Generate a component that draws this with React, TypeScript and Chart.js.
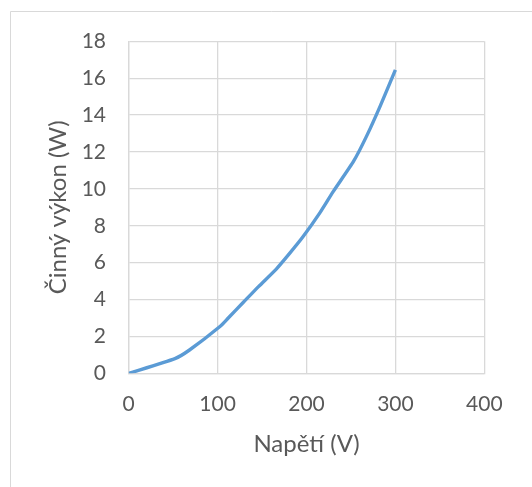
import React, { useEffect, useRef } from "react";
import { Chart, registerables } from "chart.js";

Chart.register(...registerables);

const voltage = [0, 52, 68, 103, 112, 129, 146, 166, 181, 196, 215, 230, 253, 268, 283, 300];
const power = [0, 0.8, 1.25, 2.55, 3.0, 3.85, 4.7, 5.65, 6.5, 7.4, 8.7, 9.85, 11.5, 12.9, 14.5, 16.45];
const xTitle = "Napětí (V)";
const yTitle = "Činný výkon (W)";

const textColor = "#595959";
const gridColor = "#d9d9d9";
const FONT = "Lato, 'Open Sans', sans-serif";

const borderPlugin = {
  id: "outerBorder",
  beforeDraw(chart: any) {
    const ctx = chart.ctx;
    ctx.save();
    ctx.fillStyle = "#ffffff";
    ctx.fillRect(0, 0, chart.width, chart.height);
    ctx.strokeStyle = gridColor;
    ctx.lineWidth = 1;
    ctx.beginPath();
    ctx.moveTo(10.5, chart.height);
    ctx.lineTo(10.5, 11.5);
    ctx.lineTo(chart.width, 11.5);
    ctx.stroke();
    ctx.restore();
  },
};

export default function App() {
  const ref = useRef<HTMLCanvasElement>(null);
  useEffect(() => {
    document.body.style.margin = "0";
    const data = voltage.map((v, i) => ({ x: v, y: power[i] }));
    const chart = new Chart(ref.current!, {
      type: "scatter",
      data: {
        datasets: [
          {
            data,
            showLine: true,
            borderColor: "#5b9bd5",
            backgroundColor: "#5b9bd5",
            borderWidth: 3.4,
            pointRadius: 0,
            tension: 0.2,
          },
        ],
      },
      options: {
        responsive: false,
        animation: false,
        layout: { padding: { left: 39.6, top: 41.3, right: 47.7, bottom: 24.6 } },
        plugins: { legend: { display: false }, tooltip: { enabled: false } },
        scales: {
          x: {
            type: "linear",
            min: 0,
            max: 400,
            ticks: { stepSize: 100, color: textColor, padding: 18.5, font: { family: FONT, size: 21 } },
            grid: { color: gridColor, lineWidth: 1.3, drawTicks: false },
            border: { color: gridColor, width: 1.3 },
            title: { display: true, text: xTitle, color: textColor, font: { family: FONT, size: 24 }, padding: { top: 4, bottom: 4 } },
            afterFit(scale: any) {
              scale.height = 89.1;
            },
          },
          y: {
            type: "linear",
            min: 0,
            max: 18,
            ticks: { stepSize: 2, color: textColor, padding: 22.7, font: { family: FONT, size: 21 } },
            grid: { color: gridColor, lineWidth: 1.3, drawTicks: false },
            border: { color: gridColor, width: 1.3 },
            title: { display: true, text: yTitle, color: textColor, font: { family: FONT, size: 24 }, padding: { top: 4, bottom: 4 } },
            afterFit(scale: any) {
              scale.width = 89.1;
            },
          },
        },
      },
      plugins: [borderPlugin],
    });
    return () => chart.destroy();
  }, []);
  return <canvas ref={ref} width={532} height={487} style={{ display: "block" }} />;
}
